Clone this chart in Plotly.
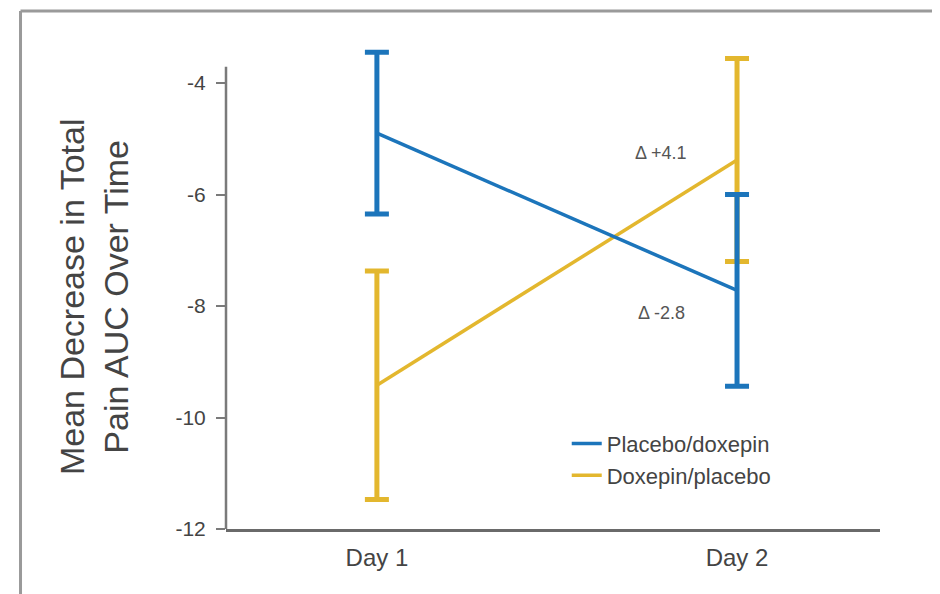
import plotly.graph_objects as go

days = ["Day 1", "Day 2"]
placebo_doxepin_mean = [-4.9, -7.72]
placebo_doxepin_err = [1.45, 1.72]
doxepin_placebo_mean = [-9.42, -5.38]
doxepin_placebo_err = [2.05, 1.82]
y_ticks = [-4, -6, -8, -10, -12]
y_tick_text = ["-4", "-6", "-8", "-10", "-12"]
delta_labels = ["Δ +4.1", "Δ -2.8"]
delta_y = [-5.26, -8.13]

BLUE = "#1c75bb"
YELLOW = "#e3b72e"
FONT = "Liberation Sans, Arial, sans-serif"

fig = go.Figure()
fig.add_trace(go.Scatter(
    x=days, y=doxepin_placebo_mean, mode="lines", name="Doxepin/placebo",
    line=dict(color=YELLOW, width=3.5), legendrank=2,
    error_y=dict(type="data", array=doxepin_placebo_err, visible=True,
                 color=YELLOW, thickness=5, width=12),
))
fig.add_trace(go.Scatter(
    x=days, y=placebo_doxepin_mean, mode="lines", name="Placebo/doxepin",
    line=dict(color=BLUE, width=3.5), legendrank=1,
    error_y=dict(type="data", array=placebo_doxepin_err, visible=True,
                 color=BLUE, thickness=5, width=12),
))

for txt, yv in zip(delta_labels, delta_y):
    fig.add_annotation(x=0.79, y=yv, xref="x", yref="y", text=txt,
                       showarrow=False, font=dict(size=18, color="#555", family=FONT))

fig.add_annotation(x=-0.202, y=0.48, xref="paper", yref="paper",
                   text="Mean Decrease in Total<br>Pain AUC Over Time",
                   textangle=-90, showarrow=False, xanchor="center", yanchor="middle",
                   font=dict(size=34, color="#444", family=FONT))

# y axis line (stops short of the top)
fig.add_shape(type="line", xref="x domain", yref="y", x0=0, x1=0, y0=-12, y1=-3.71,
              line=dict(color="#7a7a7a", width=2.5))
# outer frame
fig.add_shape(type="line", xref="paper", yref="paper", x0=-0.3142, x1=1.0887, y0=1.068, y1=1.068,
              line=dict(color="#9a9a9a", width=3))
fig.add_shape(type="line", xref="paper", yref="paper", x0=-0.3142, x1=-0.3142, y0=1.068, y1=-0.2,
              line=dict(color="#9a9a9a", width=3))
fig.add_shape(type="line", xref="paper", yref="paper", x0=1.0887, x1=1.0887, y0=1.068, y1=-0.2,
              line=dict(color="#e2e2e2", width=1))

fig.update_layout(
    width=940, height=594,
    margin=dict(l=218, r=68, t=36, b=73),
    paper_bgcolor="white", plot_bgcolor="white",
    showlegend=True,
    legend=dict(x=0.521, y=0.219, xanchor="left", yanchor="top",
                font=dict(size=22, color="#444", family=FONT),
                bgcolor="rgba(0,0,0,0)", itemwidth=30, tracegroupgap=0),
    xaxis=dict(type="category", range=[-0.419, 1.397], showgrid=False, zeroline=False,
               showline=True, linecolor="#6a6a6a", linewidth=2.5, ticks="",
               ticklabelstandoff=5,
               tickfont=dict(size=24, color="#444", family=FONT)),
    yaxis=dict(range=[-12, -3.3], tickvals=y_ticks, ticktext=y_tick_text,
               showgrid=False, zeroline=False,
               showline=False, ticks="outside", ticklen=9, tickwidth=2, tickcolor="#7a7a7a",
               ticklabelstandoff=6,
               tickfont=dict(size=21, color="#444", family=FONT)),
)

fig.write_html("out.html")
